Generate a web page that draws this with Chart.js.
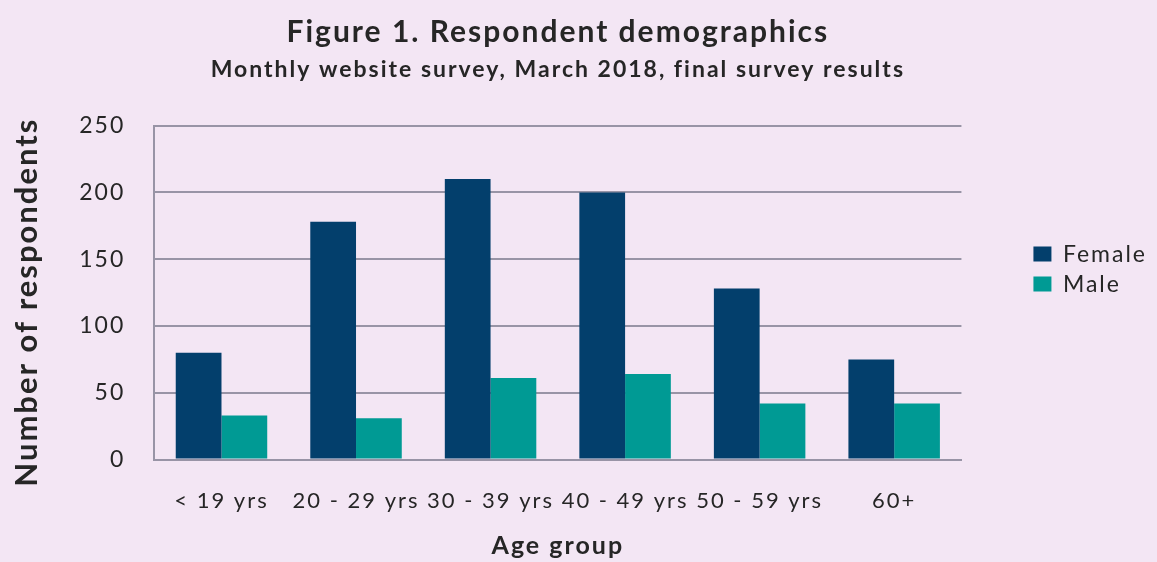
<!DOCTYPE html>
<html>
<head>
<meta charset="utf-8">
<script src="https://cdn.jsdelivr.net/npm/chart.js@4/dist/chart.umd.min.js"></script>
<style>
  html, body { margin: 0; padding: 0; background: #f3e6f4; }
  #wrap { width: 1157px; height: 562px; }
</style>
</head>
<body>
<div id="wrap"><canvas id="demoChart"></canvas></div>
<script>
// Survey counts by age group
var ageGroups = ['< 19 yrs', '20 - 29 yrs', '30 - 39 yrs', '40 - 49 yrs', '50 - 59 yrs', '60+'];
var femaleCounts = [80, 178, 210, 200, 128, 75];
var maleCounts = [33, 31, 61, 64, 42, 42];
var yTicks = [0, 50, 100, 150, 200, 250];

var gridColor = '#9894a6';
var textColor = '#262626';
Chart.defaults.font.family = 'Lato, "Liberation Sans", sans-serif';

// wider letter spacing for all chart text (set before measuring and before drawing)
var letterSpacing = {
  id: 'letterSpacing',
  beforeLayout: function (chart) { chart.ctx.letterSpacing = '2px'; },
  beforeDraw: function (chart) { chart.ctx.letterSpacing = '2px'; }
};

var canvas = document.getElementById('demoChart');

var demoChart = new Chart(canvas, {
  type: 'bar',
  data: {
    labels: ageGroups,
    datasets: [
      { label: 'Female', data: femaleCounts, backgroundColor: '#033f6c', categoryPercentage: 0.68, barPercentage: 1 },
      { label: 'Male', data: maleCounts, backgroundColor: '#009a94', categoryPercentage: 0.68, barPercentage: 1 }
    ]
  },
  plugins: [letterSpacing],
  options: {
    responsive: true,
    maintainAspectRatio: false,
    animation: false,
    layout: { padding: { right: 0, bottom: 0 } },
    scales: {
      x: {
        grid: { display: false, drawTicks: true, tickLength: 28 },
        border: { display: true, color: gridColor, width: 2 },
        ticks: { color: textColor, font: { size: 22 }, padding: 0, maxRotation: 0, autoSkip: false },
        title: { display: true, text: 'Age group', color: textColor, font: { size: 25, weight: 'bold' }, padding: { top: 17, bottom: 1 } }
      },
      y: {
        min: 0,
        max: 250,
        afterBuildTicks: function (scale) {
          scale.ticks = yTicks.map(function (v) { return { value: v }; });
        },
        grid: { color: gridColor, lineWidth: 2, drawTicks: false },
        border: { display: true, color: gridColor, width: 2 },
        ticks: { color: textColor, font: { size: 23 }, padding: 29 },
        title: { display: true, text: 'Number of respondents  ', color: textColor, font: { size: 31, weight: 'bold' }, padding: { top: 8, bottom: 5 } }
      },
      // empty axis on the right, keeps a gap before the legend
      gap: {
        axis: 'y',
        position: 'right',
        display: true,
        grid: { display: false },
        border: { display: false },
        ticks: { display: false },
        afterFit: function (scale) { scale.width = 65; }
      }
    },
    plugins: {
      title: {
        display: true,
        fullSize: false,
        text: 'Figure 1. Respondent demographics',
        color: textColor,
        font: { size: 30, weight: 'bold' },
        padding: { top: 14, bottom: 6 }
      },
      subtitle: {
        display: true,
        fullSize: false,
        text: 'Monthly website survey, March 2018, final survey results',
        color: textColor,
        font: { size: 23, weight: 'bold' },
        padding: { top: 0, bottom: 42 }
      },
      legend: {
        position: 'right',
        align: 'start',
        fullSize: false,
        title: { display: true, text: '', font: { size: 10 }, padding: { top: 98, bottom: 0 } },
        labels: { boxWidth: 18, boxHeight: 15, padding: 7, color: textColor, font: { size: 23 } }
      },
      tooltip: { enabled: false }
    }
  }
});
</script>
</body>
</html>
